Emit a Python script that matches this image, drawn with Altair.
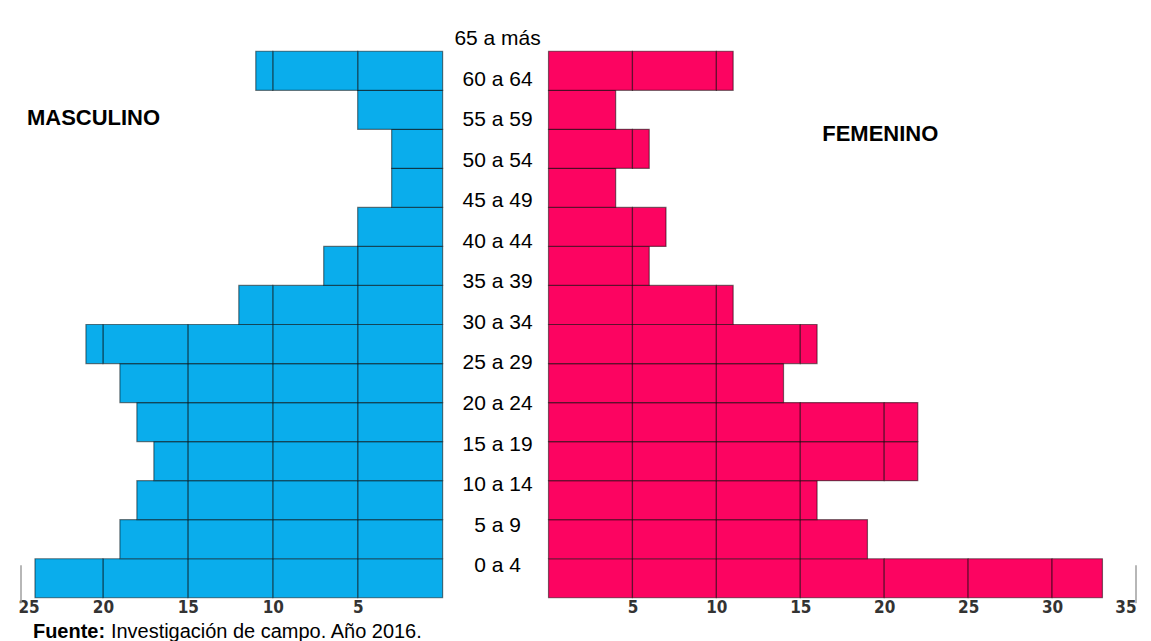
import altair as alt
import pandas as pd

# ---- data (bottom -> top) ----
grupos = ["0 a 4", "5 a 9", "10 a 14", "15 a 19", "20 a 24", "25 a 29", "30 a 34",
          "35 a 39", "40 a 44", "45 a 49", "50 a 54", "55 a 59", "60 a 64", "65 a más"]
masculino = [24, 19, 18, 17, 18, 19, 21, 12, 7, 5, 3, 3, 5, 11]
femenino = [33, 19, 16, 22, 22, 14, 16, 11, 6, 7, 4, 6, 4, 11]
ticks_m = [5, 10, 15, 20, 25]
ticks_f = [5, 10, 15, 20, 25, 30, 35]
max_m = 25
max_f = 35

AZUL = "#0AADEC"
ROSA = "#FC0461"
COND = "DejaVu Sans Condensed, sans-serif"
SANS = "Liberation Sans, Arial, sans-serif"

orden = grupos[::-1]  # top -> bottom


def segmentos(vals):
    rows = []
    for g, v in zip(grupos, vals):
        k = 0
        while k < v:
            rows.append({"grupo": g, "x0": k, "x1": min(k + 5, v)})
            k += 5
    return pd.DataFrame(rows)


H = 577


def y_band():
    return alt.Y("grupo:N", scale=alt.Scale(domain=orden, range=[30, 577],
                                            paddingInner=0, paddingOuter=0), axis=None)


axis_kw = dict(ticks=False, domain=False, grid=False, labelPadding=2,
               labelFont=COND, labelFontWeight="bold", labelFontSize=17,
               labelColor="#333333")

# ---- left (masculino) ----
seg_m = segmentos(masculino)
left_bars = alt.Chart(seg_m).mark_rect(
    color=AZUL, stroke="black", strokeOpacity=0.5, strokeWidth=1.2
).encode(
    x=alt.X("x0:Q", scale=alt.Scale(domain=[0, max_m], reverse=True, nice=False),
            axis=alt.Axis(values=ticks_m, **axis_kw), title=None),
    x2="x1:Q",
    y=y_band(),
)
left_edge = alt.Chart(pd.DataFrame({"grupo": [grupos[0]], "v": [max_m]})).mark_tick(
    orient="vertical", size=38, thickness=2, color="#999999", xOffset=3, yOffset=6
).encode(x="v:Q", y=y_band())
masc_txt = alt.Chart(pd.DataFrame({"t": ["MASCULINO"]})).mark_text(
    font=SANS, fontWeight="bold", fontSize=22, align="left", baseline="middle", color="black"
).encode(x=alt.value(9), y=alt.value(97), text="t:N")
fuente_b = alt.Chart(pd.DataFrame({"t": ["Fuente:"]})).mark_text(
    font=SANS, fontWeight="bold", fontSize=20, align="left", baseline="alphabetic", color="black"
).encode(x=alt.value(15), y=alt.value(617), text="t:N")
fuente_n = alt.Chart(pd.DataFrame({"t": ["Investigación de campo. Año 2016."]})).mark_text(
    font=SANS, fontSize=20, align="left", baseline="alphabetic", color="black"
).encode(x=alt.value(93), y=alt.value(617), text="t:N")

left = alt.layer(left_bars, left_edge, masc_txt, fuente_b, fuente_n).properties(width=425, height=H)

# ---- center labels ----
center = alt.Chart(pd.DataFrame({"grupo": orden})).mark_text(
    font=SANS, fontSize=21, color="black", align="center", baseline="middle"
).encode(
    x=alt.value(55),
    y=alt.Y("grupo:N", scale=alt.Scale(type="point", domain=orden, range=[17.7, 545.5], padding=0),
            axis=None),
    text="grupo:N",
).properties(width=106, height=H)

# ---- right (femenino) ----
seg_f = segmentos(femenino)
right_bars = alt.Chart(seg_f).mark_rect(
    color=ROSA, stroke="black", strokeOpacity=0.5, strokeWidth=1.2
).encode(
    x=alt.X("x0:Q", scale=alt.Scale(domain=[0, max_f], nice=False),
            axis=alt.Axis(values=ticks_f, **axis_kw), title=None),
    x2="x1:Q",
    y=y_band(),
)
right_edge = alt.Chart(pd.DataFrame({"grupo": [grupos[0]], "v": [max_f]})).mark_tick(
    orient="vertical", size=38, thickness=2, color="#999999", yOffset=6
).encode(x="v:Q", y=y_band())
fem_txt = alt.Chart(pd.DataFrame({"t": ["FEMENINO"]})).mark_text(
    font=SANS, fontWeight="bold", fontSize=22, align="left", baseline="middle", color="black"
).encode(x=alt.value(274), y=alt.value(113), text="t:N")

right = alt.layer(right_bars, right_edge, fem_txt).properties(width=588, height=H)

chart = alt.hconcat(left, center, right, spacing=0, bounds="flush").resolve_scale(
    x="independent", y="independent"
).properties(
    padding={"left": 9, "top": 12, "right": 5, "bottom": 5},
    background="white",
).configure_view(stroke="transparent")

chart.save("out.html", embed_options={"renderer": "svg", "actions": False})
